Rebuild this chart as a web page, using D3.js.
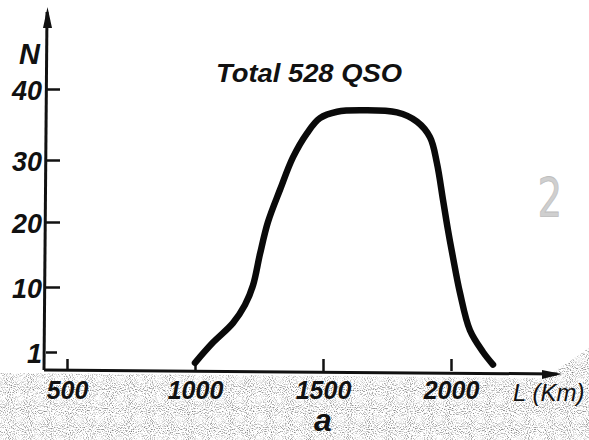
<!DOCTYPE html>
<html>
<head>
<meta charset="utf-8">
<script src="https://cdn.jsdelivr.net/npm/d3@7"></script>
<style>
  html, body { margin: 0; padding: 0; background: #fff; }
  svg { display: block; }
  .lab { font-family: "Liberation Sans", Arial, sans-serif; font-style: italic; font-weight: bold; fill: #111; }
</style>
</head>
<body>
<svg id="chart" width="589" height="440"></svg>
<script>
// ---- data ----
const lengthKm = [1000, 1070, 1148, 1195, 1227, 1254, 1285, 1332, 1383, 1438, 1488, 1555,
                  1656, 1789, 1867, 1918, 1945, 1969, 1988, 2008, 2035, 2074, 2125, 2164];
const countN   = [0.4, 2.3, 5.0, 7.5, 10.3, 15.1, 20.0, 25.2, 30.4, 33.8, 35.9, 36.8,
                  37.0, 36.7, 35.4, 33.2, 29.5, 23.5, 18.8, 14.5, 9.2, 4.0, 1.0, 0.3];
const xTickValues = [500, 1000, 1500, 2000];
const yTickValues = [1, 10, 20, 30, 40];
const titleText = "Total  528 QSO";
const xAxisTitle = "L (Km)";
const yAxisTitle = "N";
const panelLetter = "a";
const figureNumber = "2";

// ---- drawing ----
const svg = d3.select("#chart");
const W = 589, H = 440;

// hand-drawn axes: x is near-linear, y ticks are unevenly spaced
const x = d3.scaleLinear().domain([500, 2000]).range([67, 451]);
const y = d3.scaleLinear().domain([0, 1, 10, 20, 30, 40]).range([370, 352, 287, 222, 160, 89]);

const axisX0 = 46;          // y axis position
const axisY0 = y(0);        // x axis position

// stippled paper texture below the axis
const defs = svg.append("defs");
const f = defs.append("filter").attr("id", "stip").attr("x", 0).attr("y", 0).attr("width", "100%").attr("height", "100%");
f.append("feTurbulence").attr("type", "fractalNoise").attr("baseFrequency", 0.95).attr("numOctaves", 1).attr("seed", 7).attr("result", "n");
f.append("feColorMatrix").attr("in", "n").attr("type", "matrix")
  .attr("values", "0 0 0 0 0  0 0 0 0 0  0 0 0 0 0  -3 0 0 0 1.55").attr("result", "dots");
f.append("feComposite").attr("in", "dots").attr("in2", "SourceAlpha").attr("operator", "in");

svg.append("path")
  .attr("d", `M0,${axisY0 + 3} L545,${axisY0 + 8} L589,${axisY0 - 22} L589,${H} L0,${H} Z`)
  .attr("fill", "#000")
  .attr("filter", "url(#stip)")
  .attr("opacity", 0.55);

// axis lines with arrows
const axisColor = "#111";
svg.append("line")
  .attr("x1", axisX0 - 2).attr("y1", axisY0)
  .attr("x2", W - 32).attr("y2", axisY0 + 4)
  .attr("stroke", axisColor).attr("stroke-width", 3);
svg.append("path")
  .attr("d", `M${W - 47},${axisY0 + 0} L${W - 27},${axisY0 + 4} L${W - 47},${axisY0 + 9} Z`)
  .attr("fill", axisColor);

svg.append("line")
  .attr("x1", axisX0 - 2).attr("y1", axisY0)
  .attr("x2", axisX0 + 1).attr("y2", 12)
  .attr("stroke", axisColor).attr("stroke-width", 3);
svg.append("path")
  .attr("d", `M${axisX0 - 3},28 L${axisX0 + 1.5},7 L${axisX0 + 6},28 Z`)
  .attr("fill", axisColor);

const labelStyle = sel => sel
  .style("font-family", '"Liberation Sans", Arial, sans-serif')
  .style("font-style", "italic").style("font-weight", "bold");

// x axis ticks & labels
const gx = svg.append("g").attr("transform", `translate(0,${axisY0 + 1})`)
  .call(d3.axisBottom(x).tickValues(xTickValues).tickFormat(d3.format("d"))
        .tickSizeInner(-12).tickSizeOuter(0).tickPadding(10));
gx.select(".domain").remove();
gx.selectAll(".tick line").attr("stroke", axisColor).attr("stroke-width", 2.5);
gx.selectAll(".tick text").attr("font-size", 25).attr("fill", "#111").call(labelStyle);

// y axis ticks & labels
const gy = svg.append("g").attr("transform", `translate(${axisX0},0)`)
  .call(d3.axisLeft(y).tickValues(yTickValues).tickFormat(d3.format("d"))
        .tickSizeInner(-14).tickSizeOuter(0).tickPadding(4));
gy.select(".domain").remove();
gy.selectAll(".tick line").attr("stroke", axisColor).attr("stroke-width", 2.5);
gy.selectAll(".tick text").attr("font-size", 27).attr("fill", "#111").attr("dy", "0.38em").call(labelStyle);
gy.selectAll(".tick").filter(d => d === 1).select("line").attr("x2", 11);

// curve
const line = d3.line()
  .x((d, i) => x(lengthKm[i]))
  .y((d, i) => y(countN[i]))
  .curve(d3.curveCatmullRom.alpha(0.5));
svg.append("path")
  .datum(countN)
  .attr("d", line)
  .attr("fill", "none")
  .attr("stroke", "#0a0a0a")
  .attr("stroke-width", 6.5)
  .attr("stroke-linecap", "round")
  .attr("stroke-linejoin", "round");

// texts
svg.append("text").attr("class", "lab").attr("x", 216).attr("y", 82)
  .attr("font-size", 25).attr("textLength", 186).attr("lengthAdjust", "spacingAndGlyphs")
  .text(titleText);
svg.append("text").attr("class", "lab").attr("x", 19).attr("y", 64)
  .attr("font-size", 29).text(yAxisTitle);
svg.append("text").attr("class", "lab").attr("x", 513).attr("y", 401)
  .attr("font-size", 24)
  .style("font-weight", "normal").text(xAxisTitle);
svg.append("text").attr("class", "lab").attr("x", 323).attr("y", 431)
  .attr("text-anchor", "middle").attr("font-size", 32).text(panelLetter);
svg.append("text").attr("x", 550).attr("y", 216)
  .attr("text-anchor", "middle").attr("font-size", 54)
  .attr("transform", "translate(550,216) scale(0.72,1) translate(-550,-216)")
  .style("font-family", '"DejaVu Sans", sans-serif').style("font-weight", "normal")
  .attr("fill", "#cfcfcf").attr("stroke", "#bdbdbd").attr("stroke-width", 0.8)
  .text(figureNumber);
</script>
</body>
</html>
